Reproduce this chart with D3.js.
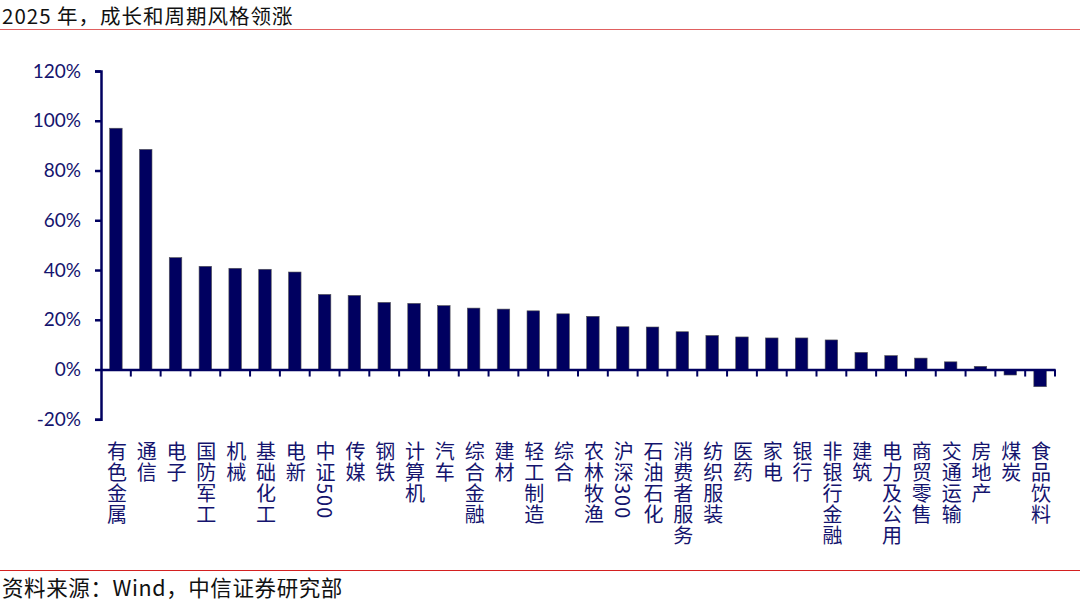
<!DOCTYPE html>
<html><head><meta charset="utf-8">
<script src="https://cdn.jsdelivr.net/npm/d3@7"></script>
<style>
body{margin:0;background:#fff;}
svg{display:block;}
</style></head>
<body>
<svg id="c" width="1080" height="603"></svg>
<script>
const categories = ["有色金属","通信","电子","国防军工","机械","基础化工","电新","中证500","传媒","钢铁","计算机","汽车","综合金融","建材","轻工制造","综合","农林牧渔","沪深300","石油石化","消费者服务","纺织服装","医药","家电","银行","非银行金融","建筑","电力及公用","商贸零售","交通运输","房地产","煤炭","食品饮料"];
const values = [97.0,88.5,45.0,41.5,40.7,40.3,39.2,30.2,29.8,27.0,26.6,25.7,24.7,24.3,23.6,22.4,21.4,17.2,17.1,15.2,13.7,13.1,12.7,12.7,11.9,6.9,5.6,4.6,3.1,1.3,-2.2,-6.9];
const yTicks = [-20,0,20,40,60,80,100,120];
const title = "2025 年，成长和周期风格领涨";
const source = "资料来源：Wind，中信证券研究部";

const svg = d3.select("#c");
const navy = "#000060";
const textNavy = "#14146e";

const x = d3.scaleBand().domain(categories).range([101,1055]).paddingInner(0.58).paddingOuter(0.29);
const xb = d3.scaleBand().domain(categories).range([101,1055]);
const y = d3.scaleLinear().domain([-20,120]).range([419.3,71]);

// title & rules
svg.append("text").attr("x",2).attr("y",24).attr("font-family","'Noto Sans CJK SC', 'Noto Sans', sans-serif")
  .attr("font-size",20.5).style("letter-spacing","1px").attr("fill","#111").text(title);
svg.append("line").attr("x1",0).attr("x2",1080).attr("y1",29.5).attr("y2",29.5).attr("stroke","#e06060").attr("stroke-width",1.2);
svg.append("line").attr("x1",0).attr("x2",1080).attr("y1",570.5).attr("y2",570.5).attr("stroke","#d42020").attr("stroke-width",1);
svg.append("text").attr("x",2).attr("y",596).attr("font-family","'Noto Sans CJK SC', 'Noto Sans', sans-serif")
  .attr("font-size",21.5).style("letter-spacing","0.6px").attr("fill","#111").text(source);

// bars
svg.append("g").selectAll("rect").data(values).join("rect")
  .attr("x",(d,i)=>x(categories[i]))
  .attr("width",x.bandwidth())
  .attr("y",d=>y(Math.max(0,d)))
  .attr("height",d=>Math.abs(y(d)-y(0)))
  .attr("fill",navy)
  .attr("stroke","#555")
  .attr("stroke-width",0.6);

// y axis
const yAxis = d3.axisLeft(y).tickValues(yTicks).tickFormat(d=>d+"%").tickSize(6).tickPadding(14);
const gy = svg.append("g").attr("transform","translate(101,0)").call(yAxis);
gy.select(".domain").attr("stroke",navy).attr("stroke-width",2.5);
gy.selectAll(".tick line").attr("stroke",navy).attr("stroke-width",2.5);
gy.selectAll(".tick text").attr("font-family","Lato, sans-serif").attr("font-size",19).attr("fill",textNavy);

// x axis at zero
const xAxis = d3.axisBottom(xb).tickSize(0).tickFormat("");
const gx = svg.append("g").attr("transform",`translate(0,${y(0)})`).call(xAxis);
gx.select(".domain").attr("stroke",navy).attr("stroke-width",2.5);
gx.selectAll(".tick").remove();
// boundary ticks
gx.selectAll("line.bt").data(categories).join("line").attr("class","bt")
  .attr("x1",d=>xb(d)+xb.bandwidth()).attr("x2",d=>xb(d)+xb.bandwidth())
  .attr("y1",0).attr("y2",7).attr("stroke",navy).attr("stroke-width",2);

// category labels, vertical
svg.append("g").selectAll("text").data(categories).join("text")
  .attr("x",d=>xb(d)+xb.bandwidth()/2+1)
  .attr("y",441)
  .attr("writing-mode","vertical-rl")
  .style("writing-mode","vertical-rl")
  .style("letter-spacing","1px")
  .attr("font-family","'Noto Sans CJK SC', sans-serif")
  .attr("font-size",20)
  .attr("fill",textNavy)
  .text(d=>d);
</script>
</body></html>
